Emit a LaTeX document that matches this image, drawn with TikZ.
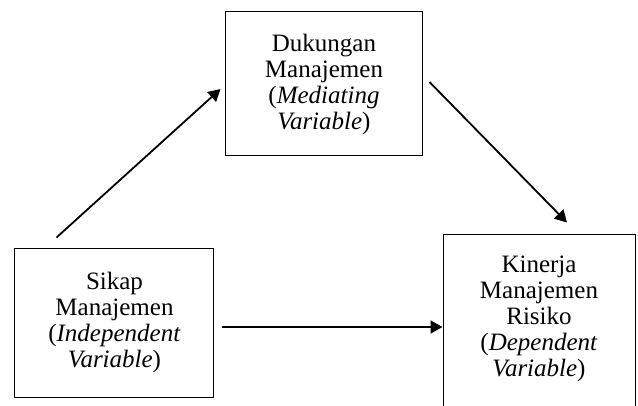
\documentclass[tikz,border=0pt]{standalone}
\usepackage{fontspec}
\setmainfont{Liberation Serif}
\usepackage{tikz}
\usetikzlibrary{arrows.meta}
\usetikzlibrary{positioning}
\tikzset{
	node distance=2cm,
	kotak/.style = {draw, line width=1pt, rectangle, align=center,
		inner sep=2pt, font=\fontsize{25}{26}\selectfont}
}

\begin{document}
\begin{tikzpicture}[-{Triangle[length=12pt,width=13pt]}, line width=1.8pt]
	\useasboundingbox (-114.5pt,-82.5pt) rectangle (523.5pt,322.5pt);
	\node[kotak, minimum width=199pt, minimum height=149pt] (sikap)
		{Sikap\\Manajemen\\(\textit{Independent}\\\textit{Variable})};
	\node[kotak, minimum width=196pt, minimum height=144pt] (dukungan)
		[above right=91pt and 11pt of sikap]
		{Dukungan\\Manajemen\\(\textit{Mediating}\\\textit{Variable})};
	\node[kotak, minimum width=192pt, minimum height=181pt, text depth=17pt] (kinerja)
		[below right=77pt and 20pt of dukungan]
		{Kinerja\\Manajemen\\Risiko\\(\textit{Dependent}\\\textit{Variable})};
	\draw ([xshift=42pt,yshift=10pt]sikap.north west) -- ([xshift=-5pt,yshift=-5pt]dukungan.west);
	\draw ([xshift=7pt,yshift=2pt]dukungan.east) -- ([xshift=28pt,yshift=11pt]kinerja.north);
	\draw ([xshift=8pt,yshift=-4.5pt]sikap.east) -- ([yshift=-4.5pt]sikap.east -| kinerja.west);
\end{tikzpicture}
\end{document}
